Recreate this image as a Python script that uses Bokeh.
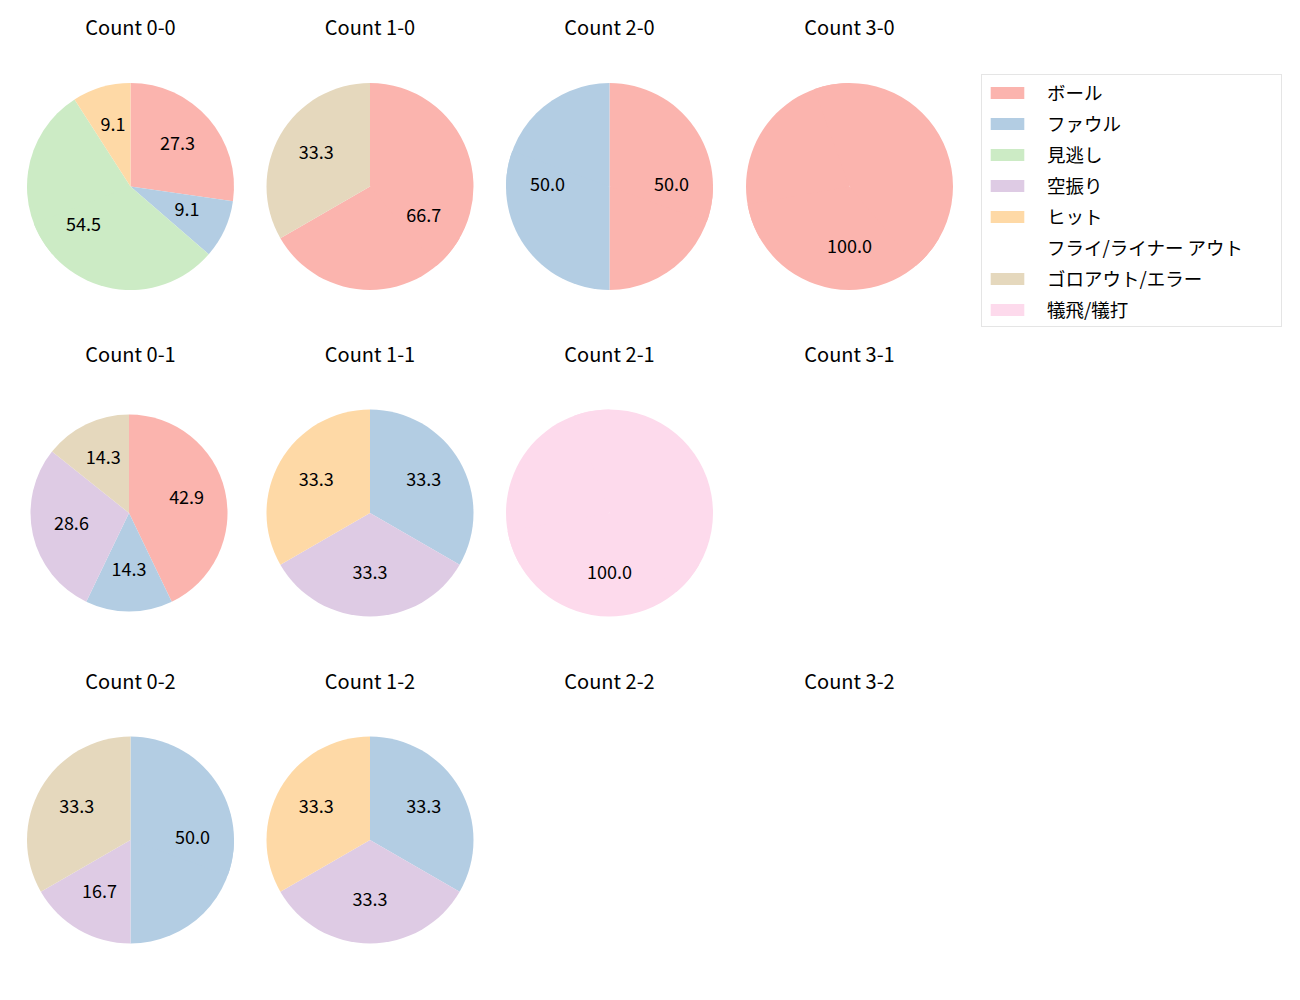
import math
from bokeh.plotting import figure
from bokeh.models import Range1d, ColumnDataSource, Legend, LegendItem
from bokeh.core.properties import value
from bokeh.embed import file_html
from bokeh.resources import INLINE

# ---------------- data ----------------
counts = ["0-0", "1-0", "2-0", "3-0",
          "0-1", "1-1", "2-1", "3-1",
          "0-2", "1-2", "2-2", "3-2"]
categories = ["ボール", "ファウル", "見逃し", "空振り", "ヒット",
              "フライ/ライナー アウト", "ゴロアウト/エラー", "犠飛/犠打"]
ball      = [3, 2, 1, 1, 3, 0, 0, 0, 0, 0, 0, 0]
foul      = [1, 0, 1, 0, 1, 1, 0, 0, 3, 1, 0, 0]
minogashi = [6, 0, 0, 0, 0, 0, 0, 0, 0, 0, 0, 0]
karaburi  = [0, 0, 0, 0, 2, 1, 0, 0, 1, 1, 0, 0]
hit       = [1, 0, 0, 0, 0, 1, 0, 0, 0, 1, 0, 0]
fly       = [0, 0, 0, 0, 0, 0, 0, 0, 0, 0, 0, 0]
goro      = [0, 1, 0, 0, 1, 0, 0, 0, 2, 0, 0, 0]
gihi      = [0, 0, 0, 0, 0, 0, 1, 0, 0, 0, 0, 0]
series = [ball, foul, minogashi, karaburi, hit, fly, goro, gihi]
colors = ["#fbb4ae", "#b3cde3", "#ccebc5", "#decbe4", "#fed9a6",
          "#ffffcc", "#e5d8bd", "#fddaec"]

# ---------------- layout (pixel coords of reference) ----------------
col_x = [130, 369.5, 609, 849]
row_y = [186, 512.5, 839.5]
title_dy = -158
R = 103.5
radius_override = {"0-1": 98.5}
center_override = {"0-1": (128.5, 512.5)}

W, H = 1284, 984
p = figure(width=W, height=H, output_backend="svg", toolbar_location=None,
           x_range=Range1d(0, W), y_range=Range1d(-H, 0),
           x_axis_type=None, y_axis_type=None, min_border=0,
           outline_line_color=None, background_fill_color="white")
p.grid.visible = False

FONT = "Noto Sans CJK JP"
OV = 20.0  # overlap (deg) on internal seams of split slices

wedge_data = {k: dict(x=[], y=[], r=[], s=[], e=[]) for k in range(len(categories))}
lab = dict(x=[], y=[], t=[])
tit = dict(x=[], y=[], t=[])

for i, c in enumerate(counts):
    cx, cy = center_override.get(c, (col_x[i % 4], row_y[i // 4]))
    rr = radius_override.get(c, R)
    tit["x"].append(col_x[i % 4]); tit["y"].append(-(row_y[i // 4] + title_dy)); tit["t"].append("Count " + c)
    total = sum(s[i] for s in series)
    if total == 0:
        continue
    cum = 0.0
    for k, s in enumerate(series):
        v = s[i]
        if v == 0:
            continue
        f0 = cum / total
        f1 = (cum + v) / total
        cum += v
        a_start = 90 - 360 * f1
        a_end = 90 - 360 * f0
        d = wedge_data[k]
        span = a_end - a_start
        full = v == total
        n = max(1, int(math.ceil(span / 170.0)))
        for j in range(n):
            s0 = a_start + span * j / n - (OV if j > 0 else 0)
            e0 = a_start + span * (j + 1) / n + (OV if (full and j == n - 1) else 0)
            d["x"].append(cx); d["y"].append(-cy); d["r"].append(rr)
            d["s"].append(s0); d["e"].append(e0)
        mid = math.radians((a_start + a_end) / 2)
        lab["x"].append(cx + 0.6 * rr * math.cos(mid))
        lab["y"].append(-cy + 0.6 * rr * math.sin(mid))
        lab["t"].append("%.1f" % (100.0 * v / total))

items = []
for k, cat in enumerate(categories):
    src = ColumnDataSource(wedge_data[k])
    r = p.wedge(x="x", y="y", radius="r", start_angle="s", end_angle="e",
                start_angle_units="deg", end_angle_units="deg",
                direction="anticlock", source=src,
                fill_color=colors[k], line_color=None)
    items.append(LegendItem(label=cat, renderers=[r]))

p.text(x="x", y="y", text="t", source=ColumnDataSource(lab),
       text_align="center", text_baseline="middle", y_offset=-3,
       text_font=value(FONT), text_font_size="18px", text_color="black")
p.text(x="x", y="y", text="t", source=ColumnDataSource(tit),
       text_align="center", text_baseline="middle", y_offset=-2,
       text_font=value(FONT), text_font_size="20px", text_color="black")

legend = Legend(items=items, location=(981, 657),
                label_text_font=FONT, label_text_font_size="18.5px",
                label_text_color="black",
                glyph_width=42, glyph_height=15, label_height=21,
                label_width=230,
                label_standoff=19, spacing=5, padding=4, margin=0,
                border_line_color="#cccccc", border_line_width=1,
                background_fill_color="white", background_fill_alpha=0.8)
p.add_layout(legend)

open("out.html", "w").write(file_html(p, INLINE))
